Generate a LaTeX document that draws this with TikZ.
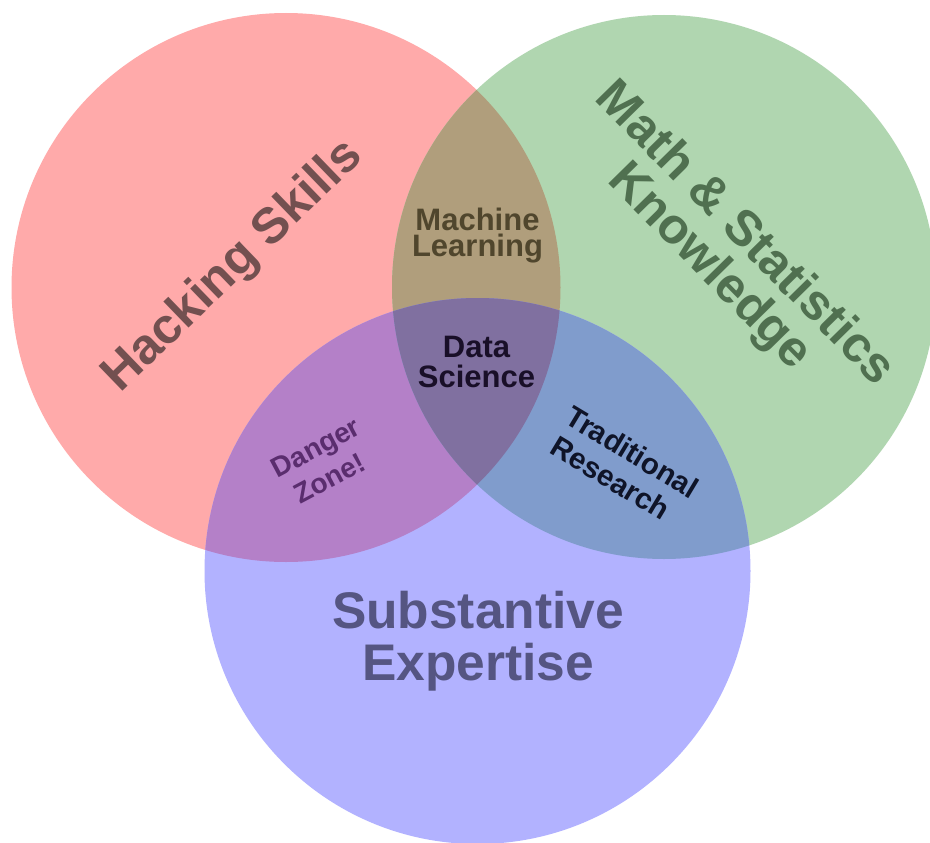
\documentclass[tikz,border=0pt]{standalone}
\usepackage{fontspec}
\setmainfont{Liberation Sans}
\definecolor{cred}{HTML}{FFAAAA}
\definecolor{cgreen}{HTML}{B0D6B0}
\definecolor{cblue}{HTML}{B2B2FF}
\definecolor{cml}{HTML}{B09E7C}
\definecolor{cdz}{HTML}{B480C8}
\definecolor{ctr}{HTML}{809CCC}
\definecolor{cds}{HTML}{8070A0}
\definecolor{thack}{HTML}{735050}
\definecolor{tmath}{HTML}{507050}
\definecolor{tsub}{HTML}{555582}
\definecolor{tml}{HTML}{50462D}
\definecolor{tds}{HTML}{190F28}
\definecolor{tdz}{HTML}{5A2D6E}
\definecolor{ttr}{HTML}{0F1428}
\begin{document}
\begin{tikzpicture}[x=1pt,y=-1pt,
  lbl/.style={inner sep=0pt, anchor=base},
  bigtxt/.style={lbl, font=\fontsize{50}{50}\selectfont\bfseries},
  subtxt/.style={lbl, font=\fontsize{51.5}{52}\selectfont\bfseries, text=tsub},
  midtxt/.style={lbl, font=\fontsize{31}{31}\selectfont\bfseries},
  smalltxt/.style={lbl, font=\fontsize{29.5}{30}\selectfont\bfseries},
  dztxt/.style={lbl, font=\fontsize{28}{28}\selectfont\bfseries, text=tdz}]
\useasboundingbox (0,0) rectangle (930,843);
\fill[white] (0,0) rectangle (930,843);
\coordinate (cR) at (286,287.5);
\coordinate (cG) at (664,287);
\coordinate (cB) at (477.5,571);
\def\circR{(cR) circle[radius=274.5pt]}
\def\circG{(cG) circle[radius=272pt]}
\def\circB{(cB) circle[radius=273pt]}
% single sets
\fill[cred] \circR;
\fill[cgreen] \circG;
\fill[cblue] \circB;
% pairwise overlaps
\begin{scope}\clip \circR; \fill[cml] \circG; \end{scope}
\begin{scope}\clip \circR; \fill[cdz] \circB; \end{scope}
\begin{scope}\clip \circG; \fill[ctr] \circB; \end{scope}
% triple overlap
\begin{scope}\clip \circR; \clip \circG; \fill[cds] \circB; \end{scope}
% labels
\node[bigtxt, text=thack, rotate=44] (hack) at (242.5,276) {Hacking Skills};
\node[bigtxt, text=tmath, rotate=-45.5] (math1) at (735,243.5) {Math \& Statistics};
\node[bigtxt, text=tmath, rotate=-45.5] (math2) at (700,276.5) {Knowledge};
\node[subtxt] (sub1) at (478,628) {Substantive};
\node[subtxt] (sub2) at (478,680) {Expertise};
\node[midtxt, text=tml] (ml1) at (477.5,230) {Machine};
\node[midtxt, text=tml] (ml2) at (477.5,256.5) {Learning};
\node[midtxt, text=tds] (ds1) at (476.5,357) {Data};
\node[midtxt, text=tds] (ds2) at (476.5,387) {Science};
\node[smalltxt, text=ttr, rotate=-31] (tr1) at (627,461) {Traditional};
\node[smalltxt, text=ttr, rotate=-31] (tr2) at (605,487) {Research};
\node[dztxt, rotate=28] (dz1) at (320,456) {Danger};
\node[dztxt, rotate=28] (dz2) at (334,487) {Zone!};
\end{tikzpicture}
\end{document}
